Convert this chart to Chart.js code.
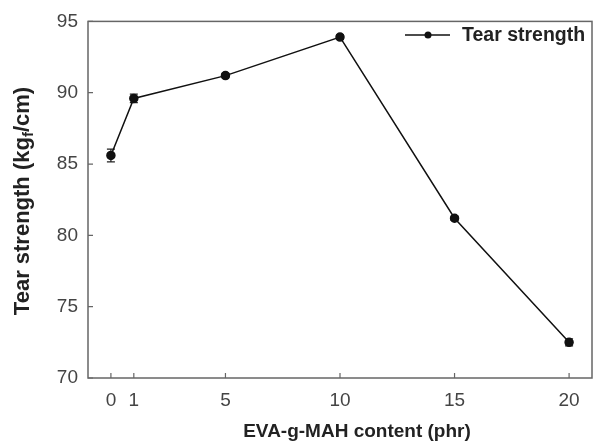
<!DOCTYPE html>
<html>
<head>
<meta charset="utf-8">
<script src="https://cdn.jsdelivr.net/npm/chart.js@4/dist/chart.umd.min.js"></script>
<style>
  html, body { margin: 0; padding: 0; background: #fff; }
  #wrap { width: 599px; height: 447px; }
</style>
</head>
<body>
<div id="wrap"><canvas id="tearchart"></canvas></div>
<script>
// EVA-g-MAH content (phr) vs tear strength
var content = [0, 1, 5, 10, 15, 20];
var tearStrength = [85.6, 89.6, 91.2, 93.9, 81.2, 72.5];
var tearError = [0.45, 0.3, 0.15, 0.15, 0.15, 0.25];
var xTicks = [0, 1, 5, 10, 15, 20];
var yTicks = [70, 75, 80, 85, 90, 95];

var FONT = "'Liberation Sans', Arial, sans-serif";
var AXIS_COLOR = '#666';

// frame, inward ticks, error bars, axis titles and legend
var decorPlugin = {
    id: 'decor',
    beforeDatasetsDraw: function(chart) {
        var ctx = chart.ctx, a = chart.chartArea;
        var xs = chart.scales.x, ys = chart.scales.y;
        ctx.save();
        ctx.strokeStyle = AXIS_COLOR;
        ctx.lineWidth = 1.5;
        ctx.strokeRect(a.left, a.top, a.right - a.left, a.bottom - a.top);
        ctx.lineWidth = 1.2;
        ctx.beginPath();
        xTicks.forEach(function(v) {
            var px = xs.getPixelForValue(v);
            ctx.moveTo(px, a.bottom);
            ctx.lineTo(px, a.bottom - 5);
        });
        yTicks.forEach(function(v) {
            var py = ys.getPixelForValue(v);
            ctx.moveTo(a.left, py);
            ctx.lineTo(a.left + 5, py);
        });
        ctx.stroke();

        // error bars
        ctx.strokeStyle = '#222';
        ctx.lineWidth = 1.2;
        ctx.beginPath();
        for (var i = 0; i < content.length; i++) {
            var px = xs.getPixelForValue(content[i]);
            var hi = ys.getPixelForValue(tearStrength[i] + tearError[i]);
            var lo = ys.getPixelForValue(tearStrength[i] - tearError[i]);
            ctx.moveTo(px, hi); ctx.lineTo(px, lo);
            ctx.moveTo(px - 4, hi); ctx.lineTo(px + 4, hi);
            ctx.moveTo(px - 4, lo); ctx.lineTo(px + 4, lo);
        }
        ctx.stroke();
        ctx.restore();
    },
    afterDraw: function(chart) {
        var ctx = chart.ctx;
        ctx.save();
        ctx.fillStyle = '#222';

        // x title
        ctx.font = 'bold 19px ' + FONT;
        ctx.textAlign = 'center';
        ctx.textBaseline = 'middle';
        ctx.fillText('EVA-g-MAH content (phr)', 357, 432);

        // y title with subscript f
        ctx.translate(23, 201);
        ctx.rotate(-Math.PI / 2);
        ctx.textAlign = 'left';
        var part1 = 'Tear strength (kg', sub = 'f', part2 = '/cm)';
        ctx.font = 'bold 22px ' + FONT;
        var w1 = ctx.measureText(part1).width, w3 = ctx.measureText(part2).width;
        ctx.font = 'bold 15px ' + FONT;
        var w2 = ctx.measureText(sub).width;
        var x0 = -(w1 + w2 + w3) / 2;
        ctx.font = 'bold 22px ' + FONT;
        ctx.fillText(part1, x0, 0);
        ctx.font = 'bold 15px ' + FONT;
        ctx.fillText(sub, x0 + w1, 6);
        ctx.font = 'bold 22px ' + FONT;
        ctx.fillText(part2, x0 + w1 + w2, 0);
        ctx.setTransform(1, 0, 0, 1, 0, 0);

        // legend
        var ly = 35;
        ctx.strokeStyle = '#111';
        ctx.lineWidth = 1.5;
        ctx.beginPath();
        ctx.moveTo(405, ly); ctx.lineTo(450, ly);
        ctx.stroke();
        ctx.beginPath();
        ctx.arc(428, ly, 3.5, 0, Math.PI * 2);
        ctx.fillStyle = '#111';
        ctx.fill();
        ctx.fillStyle = '#222';
        ctx.font = 'bold 19.5px ' + FONT;
        ctx.textAlign = 'left';
        ctx.textBaseline = 'middle';
        ctx.fillText(chart.data.datasets[0].label, 462, ly + 1);
        ctx.restore();
    }
};

var ctx = document.getElementById('tearchart');
var tearchart = new Chart(ctx, {
    type: 'line',
    data: {
        datasets: [{
            label: 'Tear strength',
            data: content.map(function(c, i) { return { x: c, y: tearStrength[i] }; }),
            borderColor: '#111',
            backgroundColor: '#111',
            borderWidth: 1.5,
            pointRadius: 4,
            pointBackgroundColor: '#111',
            pointBorderColor: '#111',
            tension: 0
        }]
    },
    options: {
        responsive: true,
        maintainAspectRatio: false,
        animation: false,
        devicePixelRatio: 1,
        layout: { padding: { left: 0, right: 7, top: 20, bottom: 0 } },
        plugins: {
            legend: { display: false },
            tooltip: { enabled: false }
        },
        scales: {
            x: {
                type: 'linear',
                min: -1,
                max: 21,
                afterBuildTicks: function(scale) {
                    scale.ticks = xTicks.map(function(v) { return { value: v }; });
                },
                afterFit: function(scale) { scale.height = 69; },
                grid: { display: false, drawTicks: false },
                border: { display: false },
                ticks: {
                    color: '#444',
                    font: { family: FONT, size: 19 },
                    padding: 11,
                    maxRotation: 0,
                    autoSkip: false
                }
            },
            y: {
                min: 70,
                max: 95,
                afterBuildTicks: function(scale) {
                    scale.ticks = yTicks.map(function(v) { return { value: v }; });
                },
                afterFit: function(scale) { scale.width = 88; },
                grid: { display: false, drawTicks: false },
                border: { display: false },
                ticks: {
                    color: '#444',
                    font: { family: FONT, size: 19 },
                    padding: 10
                }
            }
        }
    },
    plugins: [decorPlugin]
});
</script>
</body>
</html>
